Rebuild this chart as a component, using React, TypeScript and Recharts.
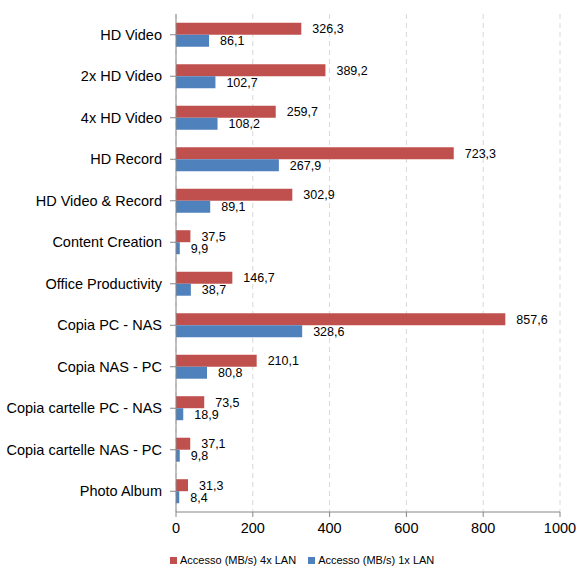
import { BarChart, Bar, XAxis, YAxis, CartesianGrid, Legend, LabelList } from "recharts";

const categories = [
  "HD Video",
  "2x HD Video",
  "4x HD Video",
  "HD Record",
  "HD Video & Record",
  "Content Creation",
  "Office Productivity",
  "Copia PC - NAS",
  "Copia NAS - PC",
  "Copia cartelle PC - NAS",
  "Copia cartelle NAS - PC",
  "Photo Album",
];
const lan4x = [326.3, 389.2, 259.7, 723.3, 302.9, 37.5, 146.7, 857.6, 210.1, 73.5, 37.1, 31.3];
const lan1x = [86.1, 102.7, 108.2, 267.9, 89.1, 9.9, 38.7, 328.6, 80.8, 18.9, 9.8, 8.4];
const xTicks = [0, 200, 400, 600, 800, 1000];
const seriesNames = ["Accesso (MB/s) 4x LAN", "Accesso (MB/s) 1x LAN"];
const seriesColors = ["#C0504D", "#4F81BD"];

const data = categories.map((name, i) => ({ name, lan4x: lan4x[i], lan1x: lan1x[i] }));

const FONT = "'Liberation Sans', Arial, sans-serif";
const fmt = (v: number) => v.toFixed(1).replace(".", ",");

function LegendBox() {
  return (
    <div style={{ display: "flex", paddingLeft: 170, height: 36, alignItems: "center", fontSize: 11, fontFamily: FONT }}>
      {seriesNames.map((n, i) => (
        <div key={n} style={{ display: "flex", alignItems: "center", marginRight: 12 }}>
          <span style={{ width: 7, height: 7, background: seriesColors[i], marginRight: 3, display: "inline-block" }} />
          <span style={{ color: "#000" }}>{n}</span>
        </div>
      ))}
    </div>
  );
}

export default function App() {
  return (
    <div style={{ position: "fixed", top: 0, left: 0, background: "#fff", fontFamily: FONT }}>
      <BarChart
        width={581}
        height={578}
        data={data}
        layout="vertical"
        margin={{ top: 14, right: 21, bottom: 0, left: 0 }}
        barCategoryGap="21%"
        barGap={0}
      >
        <CartesianGrid horizontal={false} strokeDasharray="5 4" stroke="#D9D9D9" />
        <XAxis
          type="number"
          domain={[0, 1000]}
          ticks={xTicks}
          stroke="#868686"
          tickSize={5}
          tick={{ fontSize: 14.5, fill: "#000", fontFamily: FONT }}
          tickMargin={6}
          height={30}
        />
        <YAxis
          type="category"
          dataKey="name"
          width={176}
          stroke="#868686"
          tickSize={6}
          tickMargin={8}
          tick={{ fontSize: 14.5, fill: "#000", fontFamily: FONT }}
          interval={0}
        />
        <Legend verticalAlign="bottom" height={36} content={() => <LegendBox />} />
        <Bar dataKey="lan4x" name={seriesNames[0]} fill={seriesColors[0]} isAnimationActive={false}>
          <LabelList dataKey="lan4x" position="right" offset={11} formatter={fmt} style={{ fontSize: 12.5, fill: "#000", fontFamily: FONT }} />
        </Bar>
        <Bar dataKey="lan1x" name={seriesNames[1]} fill={seriesColors[1]} isAnimationActive={false}>
          <LabelList dataKey="lan1x" position="right" offset={11} formatter={fmt} style={{ fontSize: 12.5, fill: "#000", fontFamily: FONT }} />
        </Bar>
      </BarChart>
    </div>
  );
}
